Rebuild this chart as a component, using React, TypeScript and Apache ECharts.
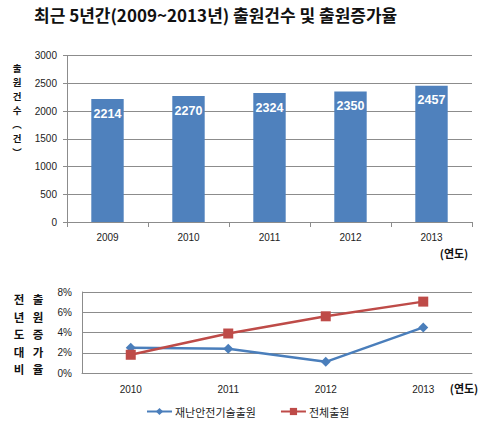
import React, { useEffect, useRef } from "react";
import * as echarts from "echarts";

const barYears = ["2009", "2010", "2011", "2012", "2013"];
const applications = [2214, 2270, 2324, 2350, 2457];

const lineYears = ["2010", "2011", "2012", "2013"];
const disasterTechGrowth = [2.5, 2.4, 1.1, 4.5];
const totalGrowth = [1.8, 3.9, 5.6, 7.05];

const titleText = "최근 5년간(2009~2013년) 출원건수 및 출원증가율";
const topYTitle = ["출", "원", "건", "수", "︵", "건", "︶"];
const bottomYTitleA = ["전", "년", "도", "대", "비"];
const bottomYTitleB = ["출", "원", "증", "가", "율"];
const seriesNames = ["재난안전기술출원", "전체출원"];

const GRID = "#8c8c8c";
const KFONT = "'Noto Sans CJK KR', sans-serif";
const NFONT = "'Liberation Sans', Arial, sans-serif";

export default function App() {
  const ref = useRef<HTMLDivElement>(null);
  useEffect(() => {
    document.body.style.margin = "0";
    const chart = echarts.init(ref.current!, null, { renderer: "svg" });
    const graphics: any[] = [
      {
        type: "text",
        left: 34,
        top: 6,
        style: { text: titleText, font: `bold 17px ${KFONT}`, fill: "#111" },
      },
      {
        type: "text",
        x: 17,
        y: 110,
        style: {
          text: topYTitle.join("\n"),
          font: `bold 9.5px ${KFONT}`,
          lineHeight: 13.9,
          fill: "#111",
          align: "center",
          verticalAlign: "middle",
        },
      },
      {
        type: "text",
        x: 19,
        y: 334,
        style: {
          text: bottomYTitleA.join("\n"),
          font: `bold 11.5px ${KFONT}`,
          lineHeight: 17.5,
          fill: "#111",
          align: "center",
          verticalAlign: "middle",
        },
      },
      {
        type: "text",
        x: 38,
        y: 334,
        style: {
          text: bottomYTitleB.join("\n"),
          font: `bold 11.5px ${KFONT}`,
          lineHeight: 17.5,
          fill: "#111",
          align: "center",
          verticalAlign: "middle",
        },
      },
      {
        type: "text",
        x: 454,
        y: 253,
        style: { text: "(연도)", font: `bold 11px ${KFONT}`, fill: "#111", align: "center", verticalAlign: "middle" },
      },
      {
        type: "text",
        x: 464,
        y: 388,
        style: { text: "(연도)", font: `bold 11px ${KFONT}`, fill: "#111", align: "center", verticalAlign: "middle" },
      },
    ];
    chart.setOption({
      animation: false,
      backgroundColor: "#fff",
      graphic: graphics,
      grid: [
        { left: 67, top: 55.5, width: 405, height: 166.5 },
        { left: 82, top: 292, width: 390, height: 81 },
      ],
      legend: {
        data: seriesNames,
        left: 141,
        top: 401,
        itemWidth: 25,
        itemHeight: 9,
        itemGap: 24,
        textStyle: { fontFamily: KFONT, fontSize: 11, color: "#222", padding: [0, 0, 0, -2] },
      },
      xAxis: [
        {
          type: "category",
          gridIndex: 0,
          data: barYears,
          axisLine: { lineStyle: { color: GRID } },
          axisTick: { show: true, length: 5, lineStyle: { color: GRID } },
          axisLabel: { color: "#222", fontFamily: NFONT, fontSize: 10, margin: 10 },
        },
        {
          type: "category",
          gridIndex: 1,
          data: lineYears,
          axisLine: { lineStyle: { color: GRID } },
          axisTick: { show: false },
          axisLabel: { color: "#222", fontFamily: NFONT, fontSize: 10, margin: 11 },
        },
      ],
      yAxis: [
        {
          type: "value",
          gridIndex: 0,
          min: 0,
          max: 3000,
          interval: 500,
          axisLine: { show: true, lineStyle: { color: GRID } },
          axisTick: { show: true, length: 4, lineStyle: { color: GRID } },
          splitLine: { lineStyle: { color: GRID } },
          axisLabel: {
            color: "#222",
            fontFamily: NFONT,
            fontSize: 10,
            margin: 10,
            formatter: (v: number) => String(v),
          },
        },
        {
          type: "value",
          gridIndex: 1,
          min: 0,
          max: 8,
          interval: 2,
          axisLine: { show: true, lineStyle: { color: GRID } },
          axisTick: { show: false },
          splitLine: { lineStyle: { color: GRID } },
          axisLabel: { color: "#222", fontFamily: NFONT, fontSize: 10, margin: 10, formatter: "{value}%" },
        },
      ],
      series: [
        {
          type: "bar",
          xAxisIndex: 0,
          yAxisIndex: 0,
          data: applications,
          barWidth: "40%",
          itemStyle: { color: "#4f81bd" },
          label: {
            show: true,
            position: "insideTop",
            distance: 8,
            color: "#fff",
            fontFamily: NFONT,
            fontWeight: "bold",
            fontSize: 12.5,
          },
        },
        {
          name: seriesNames[0],
          type: "line",
          xAxisIndex: 1,
          yAxisIndex: 1,
          data: disasterTechGrowth,
          symbol: "diamond",
          symbolSize: 10,
          color: "#4a7ebb",
          lineStyle: { width: 2.5, color: "#4a7ebb" },
          itemStyle: { color: "#4a7ebb" },
        },
        {
          name: seriesNames[1],
          type: "line",
          xAxisIndex: 1,
          yAxisIndex: 1,
          data: totalGrowth,
          symbol: "rect",
          symbolSize: 10,
          color: "#be4b48",
          lineStyle: { width: 2.5, color: "#be4b48" },
          itemStyle: { color: "#be4b48" },
        },
      ],
    });
    return () => chart.dispose();
  }, []);
  return <div ref={ref} style={{ width: 500, height: 426 }} />;
}
